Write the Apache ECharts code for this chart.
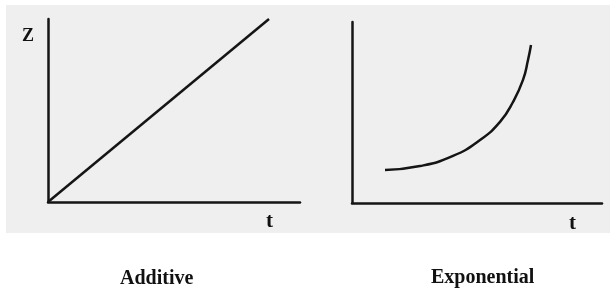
<!DOCTYPE html>
<html>
<head>
<meta charset="utf-8">
<script src="https://cdn.jsdelivr.net/npm/echarts@6/dist/echarts.min.js"></script>
<style>
  html, body { margin: 0; padding: 0; background: #fff; }
  #chart { width: 610px; height: 296px; }
</style>
</head>
<body>
<div id="chart"></div>
<script>
    // additive: straight line from origin
    var additiveT = [0, 8.77];
    var additiveZ = [0, 10];
    // exponential: curve
    var expT = [1.32, 2.72, 4.04, 5.12, 5.92, 6.44, 6.84, 7.04, 7.16];
    var expZ = [1.82, 2.04, 2.60, 3.48, 4.48, 5.58, 6.80, 7.90, 8.73];
    var panelTitles = ['Additive', 'Exponential'];

    function pairs(xs, ys) {
        var out = [];
        for (var i = 0; i < xs.length; i++) {
            out.push([xs[i], ys[i]]);
        }
        return out;
    }

    var axisLine = { show: true, onZero: false, lineStyle: { color: '#151515', width: 2.5 } };
    function ax(idx) {
        return { type: 'value', gridIndex: idx, min: 0, max: 10, axisLine: axisLine,
            axisTick: { show: false }, axisLabel: { show: false }, splitLine: { show: false } };
    }
    var labelStyle = { fill: '#111', fontFamily: 'Liberation Serif', fontWeight: 'bold' };

    var myChart = echarts.init(document.getElementById('chart'));
    var option = {
        backgroundColor: '#fff',
        animation: false,
        grid: [
            { left: 48, top: 19, width: 252, height: 183 },
            { left: 352, top: 22, width: 250, height: 181 }
        ],
        xAxis: [ax(0), ax(1)],
        yAxis: [ax(0), ax(1)],
        series: [
            {
                type: 'line', xAxisIndex: 0, yAxisIndex: 0,
                data: pairs(additiveT, additiveZ),
                showSymbol: false, z: 3,
                lineStyle: { color: '#151515', width: 2.5 }
            },
            {
                type: 'line', xAxisIndex: 1, yAxisIndex: 1,
                data: pairs(expT, expZ),
                smooth: 0.5, showSymbol: false, z: 3,
                lineStyle: { color: '#151515', width: 2.5 }
            }
        ],
        graphic: [
            { type: 'rect', z: -10, shape: { x: 6, y: 5, width: 604, height: 228 },
              style: { fill: '#efefef' } },
            { type: 'text', left: 22, top: 27,
              style: Object.assign({ text: 'Z', fontSize: 18 }, labelStyle) },
            { type: 'text', left: 266, top: 211,
              style: Object.assign({ text: 't', fontSize: 21 }, labelStyle) },
            { type: 'text', left: 569, top: 213,
              style: Object.assign({ text: 't', fontSize: 21 }, labelStyle) },
            { type: 'text', left: 120, top: 269,
              style: Object.assign({ text: panelTitles[0], fontSize: 20 }, labelStyle) },
            { type: 'text', left: 431, top: 268,
              style: Object.assign({ text: panelTitles[1], fontSize: 20 }, labelStyle) }
        ]
    };
    myChart.setOption(option);
</script>
</body>
</html>
